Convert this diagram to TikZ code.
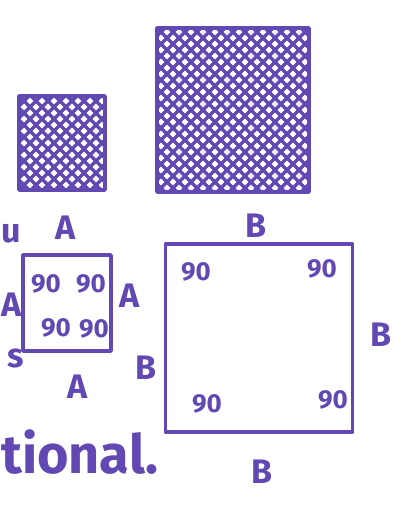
\documentclass[tikz,border=0pt]{standalone}
\usepackage{fontspec}
\setmainfont{Fira Sans}
\usetikzlibrary{positioning}
\definecolor{marker}{RGB}{98,72,178}

\begin{document}
\begin{tikzpicture}[
  x=1pt, y=-1pt,
  pen/.style={draw=marker,line width=3.5pt,line cap=round,line join=round},
  hatchline/.style={marker,line width=3.5pt,line cap=round},
  hatchbox/.style={pen,inner sep=0pt,outer sep=0pt,
    path picture={\foreach \d in {-240,-228,...,240} {
      \draw[hatchline] ([xshift=\d pt]path picture bounding box.north west) -- ++(240,240);
      \draw[hatchline] ([xshift=\d pt]path picture bounding box.south west) -- ++(240,-240);}}},
  anglebox/.style={pen,inner sep=0pt,outer sep=0pt},
  side/.style={text=marker,font=\fontsize{34}{34}\selectfont\bfseries,inner sep=0pt},
  ang/.style={text=marker,font=\fontsize{26}{26}\selectfont\bfseries,inner sep=0pt},
  every node/.style={text=marker}]
\useasboundingbox (0,0) rectangle (395,508);
% shaded squares
\node[hatchbox,minimum width=86pt,minimum height=94pt] (shadeA) at (62,143) {};
\node[hatchbox,minimum width=152pt,minimum height=164pt] (shadeB) at (233,110) {};
\node[side] (labA) at (66,228) {A};
\node[side] (labB) at (256,226) {B};
% squares with right angles
\node[anglebox,minimum width=88pt,minimum height=96pt] (sqA) at (67,303) {};
\node[anglebox,minimum width=187pt,minimum height=188pt] (sqB) at (259,338) {};
\node[ang] (a1) at (46,284) {90};
\node[ang] (a2) at (91,284) {90};
\node[ang] (a3) at (56,328) {90};
\node[ang] (a4) at (94,329) {90};
\node[ang] (b1) at (196,272) {90};
\node[ang] (b2) at (322,269) {90};
\node[ang] (b3) at (207,404) {90};
\node[ang] (b4) at (333,400) {90};
% side labels
\node[side] (sA1) at (12,305) {A};
\node[side] (sA2) at (130,296) {A};
\node[side] (sA3) at (78,387) {A};
\node[side] (sB1) at (146,368) {B};
\node[side] (sB2) at (381,335) {B};
\node[side] (sB3) at (262,472) {B};
% cut-off writing on the left
\node[side] (cu) at (11,234) {u};
\node[side] (cs) at (16,358) {s};
\node[anchor=west,inner sep=0pt,font=\fontsize{54}{54}\selectfont\bfseries] (word) at (1,452) {tional.};
\end{tikzpicture}
\end{document}
